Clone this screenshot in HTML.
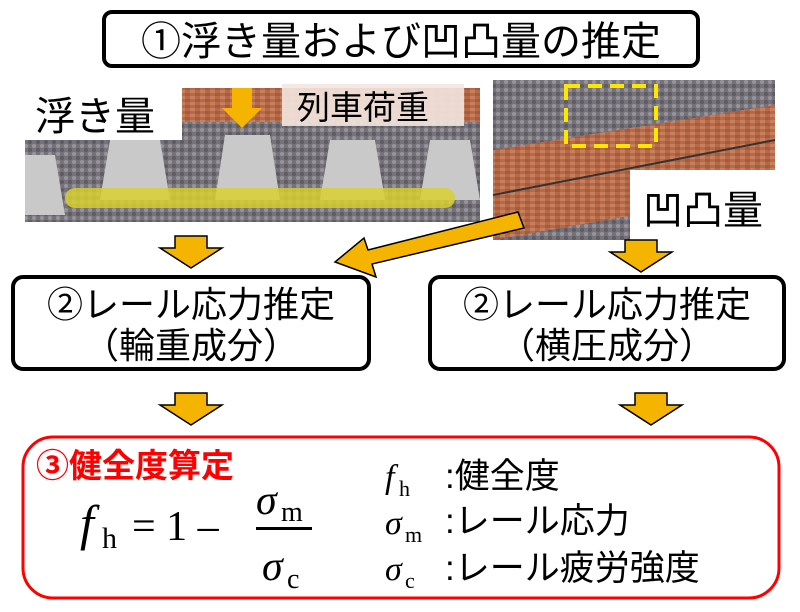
<!DOCTYPE html>
<html><head><meta charset="utf-8"><style>
body{margin:0;background:#fff;}
svg{display:block;font-family:"Liberation Sans","Noto Sans CJK JP",sans-serif;}
</style></head><body>
<svg width="800" height="612" viewBox="0 0 800 612">
<defs>
<pattern id="grav" width="8" height="8" patternUnits="userSpaceOnUse">
<rect width="8" height="8" fill="#76727a"/><circle cx="2" cy="2" r="2" fill="#97949c"/><circle cx="6" cy="6" r="2" fill="#5e5a62"/>
</pattern>
<pattern id="rust" width="10" height="6" patternUnits="userSpaceOnUse">
<rect width="10" height="6" fill="#b86a48"/><rect x="0" y="0" width="5" height="3" fill="#c7805e"/><rect x="5" y="3" width="5" height="3" fill="#a85a3c"/>
</pattern>
</defs>
<!-- title -->
<rect x="104" y="12" width="594" height="54" rx="8" fill="#fff" stroke="#000" stroke-width="4"/>
<text x="401" y="55" font-size="40" text-anchor="middle">①浮き量および凹凸量の推定</text>
<!-- left photo -->
<rect x="25" y="140" width="455" height="82" fill="url(#grav)"/>
<rect x="182" y="120" width="298" height="68" fill="url(#grav)"/>
<rect x="182" y="88" width="298" height="34" fill="url(#rust)"/>
<g fill="#c9c9c9">
<polygon points="25,155 55,155 65,215 25,215"/>
<polygon points="110,140 160,140 170,200 100,200"/>
<polygon points="225,135 270,135 280,200 215,200"/>
<polygon points="330,140 375,140 385,200 320,200"/>
<polygon points="430,140 470,140 480,200 420,200"/>
</g>
<rect x="25" y="85" width="157" height="55" fill="#fff"/>
<text x="35" y="130" font-size="40">浮き量</text>
<rect x="282" y="84" width="182" height="42" fill="#f2e6e0" opacity="0.9"/>
<text x="297" y="119" font-size="33">列車荷重</text>
<polygon points="232,88 252,88 252,108 262,108 242,128 222,108 232,108" fill="#f5b400"/>
<rect x="65" y="188" width="390" height="20" rx="10" fill="#d8d030" opacity="0.85"/>
<!-- right photo -->
<rect x="493" y="80" width="282" height="160" fill="url(#grav)"/>
<polygon points="493,150 775,105 775,190 493,240" fill="url(#rust)"/>
<line x1="493" y1="195" x2="775" y2="140" stroke="#333" stroke-width="2"/>
<rect x="566" y="86" width="90" height="60" fill="none" stroke="#ffe600" stroke-width="4" stroke-dasharray="14,8"/>
<rect x="630" y="170" width="145" height="72" fill="#fff"/>
<text x="643" y="224" font-size="40">凹凸量</text>
<!-- arrows -->
<g fill="#f5b400" stroke="#000" stroke-width="1.5">
<polygon points="175,236 207,236 207,248 222,248 191,268 160,248 175,248"/>
<polygon points="625,240 657,240 657,252 672,252 641,272 610,252 625,252"/>
<polygon points="175,393 207,393 207,405 222,405 191,425 160,405 175,405"/>
<polygon points="635,393 667,393 667,405 682,405 651,425 620,405 635,405"/>
<polygon points="518,212 524,228 372,264 376,277 335,262 364,238 368,250"/>
</g>
<!-- stage 2 boxes -->
<rect x="13" y="277" width="356" height="92" rx="10" fill="#fff" stroke="#000" stroke-width="4"/>
<text x="191" y="317" font-size="36" text-anchor="middle">②レール応力推定</text>
<text x="191" y="358" font-size="36" text-anchor="middle">（輪重成分）</text>
<rect x="430" y="277" width="354" height="92" rx="10" fill="#fff" stroke="#000" stroke-width="4"/>
<text x="607" y="317" font-size="36" text-anchor="middle">②レール応力推定</text>
<text x="607" y="358" font-size="36" text-anchor="middle">（横圧成分）</text>
<!-- stage 3 -->
<rect x="23" y="437" width="756" height="161" rx="30" fill="#fff" stroke="#f00" stroke-width="3"/>
<text x="36" y="477" font-size="33" fill="#f00" font-weight="bold">③健全度算定</text>
<g font-family="Liberation Serif,serif">
<text x="80" y="540" font-size="50" font-style="italic">f</text>
<text x="102" y="548" font-size="30">h</text>
<text x="132" y="540" font-size="42">= 1 –</text>
<text x="256" y="514" font-size="42" font-style="italic">σ</text>
<text x="281" y="521" font-size="28">m</text>
<rect x="256" y="527" width="56" height="3" fill="#000"/>
<text x="262" y="580" font-size="42" font-style="italic">σ</text>
<text x="287" y="588" font-size="28">c</text>
<text x="385" y="488" font-size="34" font-style="italic">f</text>
<text x="399" y="496" font-size="22">h</text>
<text x="385" y="534" font-size="34" font-style="italic">σ</text>
<text x="405" y="542" font-size="22">m</text>
<text x="385" y="580" font-size="34" font-style="italic">σ</text>
<text x="405" y="588" font-size="22">c</text>
</g>
<text x="445" y="488" font-size="35">:健全度</text>
<text x="445" y="533" font-size="35">:レール応力</text>
<text x="445" y="580" font-size="35">:レール疲労強度</text>
</svg>
</body></html>
